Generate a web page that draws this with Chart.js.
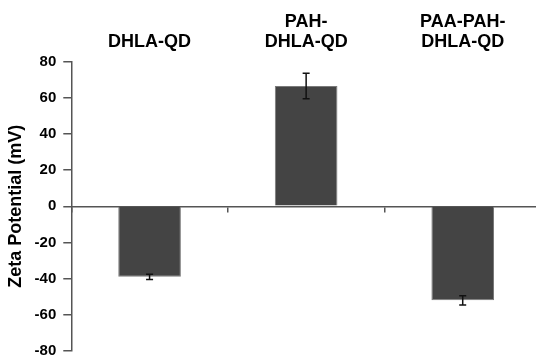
<!DOCTYPE html>
<html>
<head>
<meta charset="utf-8">
<script src="https://cdn.jsdelivr.net/npm/chart.js@4.4.1/dist/chart.umd.min.js"></script>
<style>
    html, body {
        margin: 0;
        padding: 0;
        background: #ffffff;
        overflow: hidden;
    }
    #chart-box {
        position: relative;
        width: 541px;
        height: 367px;
    }
</style>
</head>
<body>
<div id="chart-box">
    <canvas id="chartCanvas"></canvas>
</div>
<script>
const categories = [["DHLA-QD"], ["PAH-", "DHLA-QD"], ["PAA-PAH-", "DHLA-QD"]];
const zetaValues = [-39, 66.5, -52];
const zetaErrors = [1.5, 7, 2.5];
const yTicks = [-80, -60, -40, -20, 0, 20, 40, 60, 80];

const fontFamily = "'Liberation Sans', Arial, Helvetica, sans-serif";

// draws the black error bars on top of each bar
const errorBarPlugin = {
    id: "errorBars",
    afterDatasetsDraw(chart) {
        const ctx = chart.ctx;
        const yScale = chart.scales.y;
        const meta = chart.getDatasetMeta(0);
        ctx.save();
        ctx.strokeStyle = "#111111";
        ctx.lineWidth = 1.5;
        meta.data.forEach((bar, i) => {
            const top = yScale.getPixelForValue(zetaValues[i] + zetaErrors[i]);
            const bottom = yScale.getPixelForValue(zetaValues[i] - zetaErrors[i]);
            const x = bar.x;
            ctx.beginPath();
            ctx.moveTo(x, top);
            ctx.lineTo(x, bottom);
            ctx.moveTo(x - 3.5, top);
            ctx.lineTo(x + 3.5, top);
            ctx.moveTo(x - 3.5, bottom);
            ctx.lineTo(x + 3.5, bottom);
            ctx.stroke();
        });
        ctx.restore();
    }
};

document.addEventListener("DOMContentLoaded", function () {

    const ctx = document.getElementById("chartCanvas").getContext("2d");

    window.chart = new Chart(ctx, {
        type: "bar",
        data: {
            labels: categories,
            datasets: [{
                label: "Zeta Potential",
                data: zetaValues,
                backgroundColor: "#444444",
                borderColor: "#7a7a7a",
                borderWidth: 1,
                barPercentage: 0.4,
                categoryPercentage: 1
            }]
        },
        options: {
            responsive: true,
            maintainAspectRatio: false,
            animation: false,
            layout: {
                padding: { top: 2, bottom: 0, left: 0, right: 0 }
            },
            plugins: {
                legend: { display: false },
                tooltip: { enabled: false }
            },
            scales: {
                x: {
                    type: "category",
                    position: { y: 0 },
                    offset: true,
                    ticks: { display: false },
                    grid: {
                        offset: true,
                        drawOnChartArea: false,
                        tickLength: 5,
                        tickColor: "#555555",
                        lineWidth: 1.5
                    },
                    border: { color: "#555555", width: 1.5 }
                },
                x2: {
                    type: "category",
                    position: "top",
                    offset: true,
                    grid: { display: false, drawTicks: false },
                    border: { display: false },
                    ticks: {
                        color: "#000000",
                        padding: 10,
                        maxRotation: 0,
                        autoSkip: false,
                        font: { family: fontFamily, size: 18, weight: "bold", lineHeight: 1.1 }
                    }
                },
                y: {
                    min: -80,
                    max: 80,
                    afterBuildTicks: function (axis) {
                        axis.ticks = yTicks.map(v => ({ value: v }));
                    },
                    ticks: {
                        color: "#000000",
                        padding: 7,
                        font: { family: fontFamily, size: 15, weight: "bold" }
                    },
                    grid: {
                        drawOnChartArea: false,
                        tickLength: 8,
                        tickColor: "#555555",
                        lineWidth: 1.5
                    },
                    border: { color: "#555555", width: 1.5 },
                    title: {
                        display: true,
                        text: "Zeta Potential (mV)",
                        color: "#000000",
                        padding: { top: 5, bottom: 1 },
                        font: { family: fontFamily, size: 18, weight: "bold" }
                    }
                }
            }
        },
        plugins: [errorBarPlugin]
    });
});
</script>
</body>
</html>
